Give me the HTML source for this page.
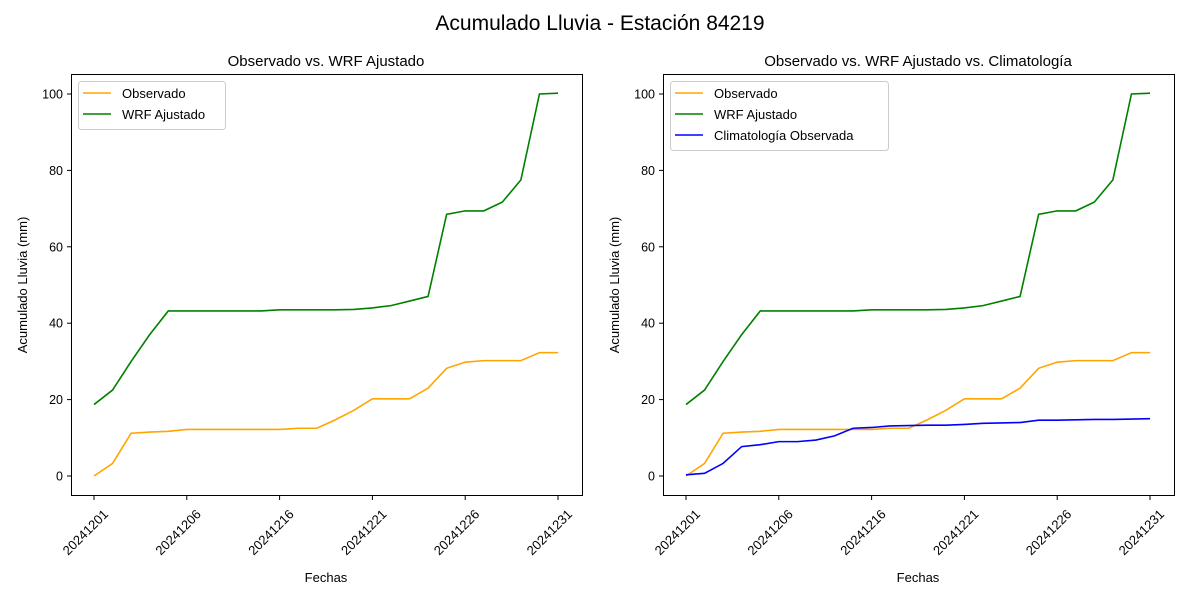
<!DOCTYPE html>
<html><head><meta charset="utf-8"><style>
body{margin:0;background:#fff}
svg text{font-family:"Liberation Sans","DejaVu Sans",sans-serif;fill:#000}
</style></head><body>
<svg id="s" width="1200" height="600" xmlns="http://www.w3.org/2000/svg">
<text x="600" y="30" font-size="21" text-anchor="middle">Acumulado Lluvia - Estación 84219</text>
</svg>
<script>
const s=document.getElementById('s');
const ns='http://www.w3.org/2000/svg';
function el(t,a,txt){const e=document.createElementNS(ns,t);for(const k in a)e.setAttribute(k,a[k]);if(txt!==undefined)e.textContent=txt;s.appendChild(e);return e;}
const obs=[0,3.3,11.2,11.5,11.7,12.2,12.2,12.2,12.2,12.2,12.2,12.5,12.5,14.7,17.2,20.2,20.2,20.2,23,28.2,29.8,30.2,30.2,30.2,32.3,32.3];
const wrf=[18.7,22.5,30,37,43.2,43.2,43.2,43.2,43.2,43.2,43.5,43.5,43.5,43.5,43.6,44,44.6,45.8,47,68.5,69.4,69.4,71.7,77.5,100,100.2];
const cli=[0.3,0.7,3.3,7.7,8.2,9,9,9.4,10.5,12.5,12.7,13.1,13.2,13.3,13.3,13.5,13.8,13.9,14,14.6,14.6,14.7,14.8,14.8,14.9,15.0];
function panel(off,title,series,legend){
 const X=i=>94+off+i*18.56, Y=v=>476-3.82*v;
 el('text',{x:326+off,y:66,'font-size':15,'text-anchor':'middle'},title);
 el('rect',{x:71.5+off,y:74.5,width:511,height:421,fill:'none',stroke:'#000','stroke-width':1});
 for(let v=0;v<=100;v+=20){const y=Y(v);el('line',{x1:67+off,x2:71+off,y1:y,y2:y,stroke:'#000'});el('text',{x:63+off,y:y+4.5,'font-size':12.5,'text-anchor':'end'},v);}
 const labs=['20241201','20241206','20241216','20241221','20241226','20241231'];
 labs.forEach((l,k)=>{const x=X(k*5);el('line',{x1:x,x2:x,y1:495,y2:500,stroke:'#000'});el('text',{x:x+15,y:515,'font-size':13,'text-anchor':'end',transform:`rotate(-45 ${x+15} 515)`},l);});
 el('text',{x:326+off,y:582,'font-size':13,'text-anchor':'middle'},'Fechas');
 el('text',{x:27+off,y:285,'font-size':13,'text-anchor':'middle',transform:`rotate(-90 ${27+off} 285)`},'Acumulado Lluvia (mm)');
 series.forEach(([d,c])=>el('polyline',{points:d.map((v,i)=>X(i)+','+Y(v)).join(' '),fill:'none',stroke:c,'stroke-width':1.6}));
 const w=legend.w,h=legend.items.length*21+6;
 el('rect',{x:78.5+off,y:81.5,width:w,height:h,rx:3,fill:'#fff',stroke:'#ccc'});
 legend.items.forEach(([t,c],k)=>{const y=93+k*21;el('line',{x1:83+off,x2:111+off,y1:y,y2:y,stroke:c,'stroke-width':1.6});el('text',{x:122+off,y:y+5,'font-size':13},t);});
}
panel(0,'Observado vs. WRF Ajustado',[[obs,'orange'],[wrf,'green']],{w:147,items:[['Observado','orange'],['WRF Ajustado','green']]});
panel(592,'Observado vs. WRF Ajustado vs. Climatología',[[obs,'orange'],[wrf,'green'],[cli,'blue']],{w:218,items:[['Observado','orange'],['WRF Ajustado','green'],['Climatología Observada','blue']]});
</script>
</body></html>
